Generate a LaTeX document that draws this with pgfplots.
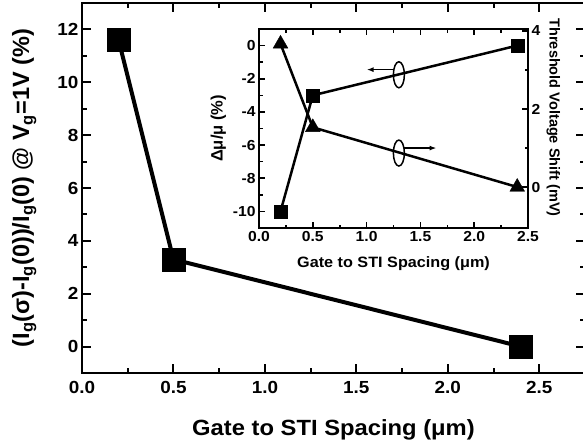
\documentclass[border=0pt]{standalone}
\usepackage{fontspec}
\setmainfont{Liberation Sans}
\usepackage{graphicx}
\usepackage{pgfplots}
\pgfplotsset{compat=1.18}
\usetikzlibrary{arrows.meta}
\newcommand{\wide}[1]{\scalebox{1.08}[1]{#1}}

\begin{document}
\begin{tikzpicture}
% main axis
\begin{axis}[
  at={(0pt,0pt)}, anchor=south west,
  scale only axis, width=503pt, height=370pt,
  xmin=0, xmax=2.75, ymin=-1, ymax=13,
  xtick={0,0.5,1,1.5,2,2.5}, ytick={0,2,4,6,8,10,12},
  minor x tick num=1, minor y tick num=1,
  tick align=inside, major tick length=9pt, minor tick length=5pt,
  tick style={black, line width=2pt},
  axis line style={line width=2.5pt},
  /pgf/number format/assume math mode=true,
  xticklabel={\wide{\pgfmathprintnumber[fixed,fixed zerofill,precision=1]{\tick}}},
  yticklabel={\wide{\pgfmathprintnumber{\tick}}},
  ticklabel style={font=\fontsize{17.5}{20}\selectfont\bfseries},
  xticklabel style={yshift=-5pt},
  xlabel={\wide{Gate to STI Spacing (μm)}},
  xlabel style={at={(axis description cs:0.5,0)}, anchor=north, yshift=-43pt},
  ylabel={(I\textsubscript{g}(σ)-I\textsubscript{g}(0))/I\textsubscript{g}(0) @ V\textsubscript{g}=1V (\%)},
  ylabel style={at={(axis description cs:-0.0835,0.5)}, anchor=south},
  xlabel style={font=\fontsize{22}{26}\selectfont\bfseries},
  ylabel style={font=\fontsize{23.5}{27}\selectfont\bfseries},
  clip=false,
]
\addplot[black, line width=4pt, mark=square*, mark size=11.5pt,
  mark options={line width=0.5pt}] coordinates {(0.2,11.6) (0.5,3.3) (2.4,0.0)};
\end{axis}

% inset, left axis (mobility)
\begin{axis}[
  at={(177pt,145pt)}, anchor=south west,
  scale only axis, width=269pt, height=199pt,
  xmin=0, xmax=2.5, ymin=-11, ymax=1,
  xtick={0,0.5,1,1.5,2,2.5}, ytick={-10,-8,-6,-4,-2,0},
  minor x tick num=1, minor y tick num=1,
  ytick pos=left,
  tick align=inside, major tick length=6pt, minor tick length=3.5pt,
  tick style={black, line width=1.6pt},
  axis line style={line width=2pt},
  /pgf/number format/assume math mode=true,
  xticklabel={\wide{\pgfmathprintnumber[fixed,fixed zerofill,precision=1]{\tick}}},
  yticklabel={\wide{\pgfmathprintnumber{\tick}}},
  ticklabel style={font=\fontsize{14.5}{16}\selectfont\bfseries},
  xlabel={\wide{Gate to STI Spacing (μm)}},
  xlabel style={at={(axis description cs:0.5,0)}, anchor=north, yshift=-25pt,
    font=\fontsize{15}{17}\selectfont\bfseries},
  ylabel={Δμ/μ (\%)},
  ylabel style={font=\fontsize{16.5}{19}\selectfont\bfseries},
  clip=false,
]
\addplot[black, line width=2.5pt, mark=square*, mark size=6.5pt,
  mark options={line width=0.4pt}] coordinates {(0.2,-10) (0.5,-3) (2.4,0)};
\draw[line width=1.5pt] (axis cs:1.30,-1.76) ellipse [x radius=5.5pt, y radius=13pt];
\draw[line width=1.5pt, -{Latex[length=7pt,width=5pt]}] (axis cs:1.25,-1.45) -- (axis cs:1.0,-1.45);
\draw[line width=1.5pt] (axis cs:1.30,-6.48) ellipse [x radius=5.5pt, y radius=13pt];
\draw[line width=1.5pt, -{Latex[length=7pt,width=5pt]}] (axis cs:1.35,-6.18) -- (axis cs:1.65,-6.18);
\end{axis}

% inset, right axis (threshold voltage)
\begin{axis}[
  at={(177pt,145pt)}, anchor=south west,
  scale only axis, width=269pt, height=199pt,
  xmin=0, xmax=2.5, ymin=-1.05, ymax=4.05,
  axis x line=none, axis y line*=right,
  ytick={0,2,4}, minor y tick num=1,
  tick align=inside, major tick length=6pt, minor tick length=3.5pt,
  tick style={black, line width=1.6pt},
  axis line style={line width=2pt},
  /pgf/number format/assume math mode=true,
  yticklabel={\wide{\pgfmathprintnumber{\tick}}},
  ticklabel style={font=\fontsize{14.5}{16}\selectfont\bfseries},
  ylabel={Threshold Voltage Shift (mV)},
  ylabel style={rotate=180, at={(axis description cs:1.056,0.555)}, anchor=south},
  label style={font=\fontsize{14.5}{17}\selectfont\bfseries},
  clip=false,
]
\addplot[black, line width=2.5pt, mark=triangle*, mark size=8.5pt,
  mark options={line width=0.4pt}] coordinates {(0.2,3.67) (0.5,1.53) (2.4,0)};
\end{axis}

\pgfresetboundingbox
\path[use as bounding box] (-82pt,-67pt) rectangle (501pt,373pt);
\end{tikzpicture}
\end{document}
